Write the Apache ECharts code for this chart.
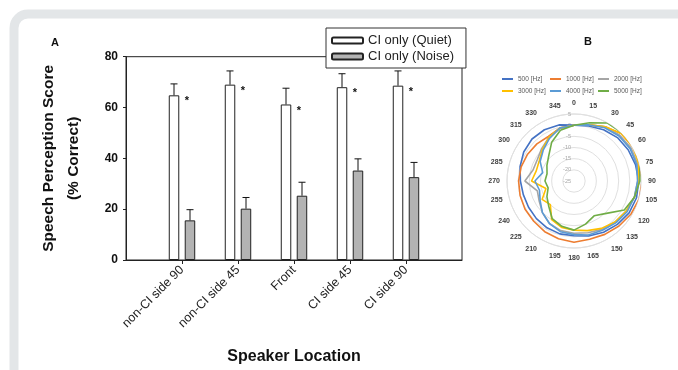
<!DOCTYPE html>
<html>
<head>
<meta charset="utf-8">
<script src="https://cdn.jsdelivr.net/npm/echarts@6/dist/echarts.min.js"></script>
<style>
  html, body { margin: 0; padding: 0; background: #fff; }
  #chart { width: 678px; height: 370px; }
</style>
</head>
<body>
<div id="chart"></div>
<script>
// panel A - speech perception per speaker location
const locations = ['non-CI side 90', 'non-CI side 45', 'Front', 'CI side 45', 'CI side 90'];
const quietMean = [64.8, 69.0, 61.2, 68.0, 68.6];
const quietErr = [4.5, 5.4, 6.4, 5.3, 5.8];
const noiseMean = [15.6, 20.2, 25.3, 35.2, 32.6];
const noiseErr = [4.2, 4.4, 5.3, 4.6, 5.8];
const sigMarks = ['*', '*', '*', '*', '*'];
const yTicks = [0, 20, 40, 60, 80];

// panel B - directivity (dB) per angle
const angles = [0, 15, 30, 45, 60, 75, 90, 105, 120, 135, 150, 165, 180, 195, 210, 225, 240, 255, 270, 285, 300, 315, 330, 345];
const hz500  = [0, 0.5, 1.5, 2.5, 3, 3.5, 4, 4, 3.5, 2.5, 1.5, 0.5, -0.5, -0.5, -0.8, -1.2, -1.5, -1.5, -1, 0, 1, 1.6, 1.5, 1];
const hz1000 = [0, 1, 3, 5, 5.5, 5.5, 5.5, 5.3, 4.5, 3.5, 2.6, 2, 2.4, 1.8, 1.2, 0.5, 0.3, 0, -0.2, -0.5, -1, -1.5, -2, -0.5];
const hz2000 = [0, 1, 3, 4, 4.5, 4.5, 3.5, 3, 2, 1, 0, -1, -1.6, -2, -3, -5, -7, -8, -3, -6, -6, -4.5, -2.5, -0.5];
const hz3000 = [0, 1, 3, 5, 5.5, 5, 4, 3, 2, 1, -0.5, -2, -3, -3.5, -5, -10, -8.5, -12, -6, -7.5, -7, -5, -2.5, -0.5];
const hz4000 = [0, 1, 2.5, 3.5, 4, 4, 3.5, 3, 2.5, 1.5, 0.5, 0, -1, -1.5, -3, -5, -7.5, -9, -7.5, -10.5, -7.5, -5.5, -3, -0.5];
const hz5000 = [0, 2, 5, 5.5, 6, 5.5, 4.5, 3, 1, -4.5, -7, -5, -3, -4, -5.5, -9, -11, -13, -12, -12.5, -11, -9, -5, -1.5];
const rTicks = [-25, -20, -15, -10, -5, 0, 5];

const freqSeries = [
  { name: '500 [Hz]', values: hz500, color: '#4472C4' },
  { name: '1000 [Hz]', values: hz1000, color: '#ED7D31' },
  { name: '2000 [Hz]', values: hz2000, color: '#A5A5A5' },
  { name: '3000 [Hz]', values: hz3000, color: '#FFC000' },
  { name: '4000 [Hz]', values: hz4000, color: '#5B9BD5' },
  { name: '5000 [Hz]', values: hz5000, color: '#70AD47' }
];

const FONT = 'Liberation Sans, Arial, sans-serif';
const xCats = [''].concat(locations, ['']);
const pad = (arr) => ['-'].concat(arr, ['-']);

const errData = [];
locations.forEach((c, i) => {
  errData.push([i + 1, quietMean[i], quietErr[i], -1]);
  errData.push([i + 1, noiseMean[i], noiseErr[i], 1]);
});
const starData = locations.map((c, i) => [i + 1, quietMean[i], sigMarks[i]]);

const myChart = echarts.init(document.getElementById('chart'));

const option = {
  backgroundColor: '#fff',
  animation: false,
  graphic: [{
    type: 'rect',
    silent: true,
    z: -1,
    shape: { x: 14, y: 14, width: 720, height: 420, r: 14 },
    style: { fill: 'none', stroke: '#e3e6e8', lineWidth: 9 }
  }],
  title: [
    { text: 'A', left: 46, top: 32, textStyle: { fontFamily: FONT, fontSize: 11, fontWeight: 'bold', color: '#111' } },
    { text: 'B', left: 579, top: 31, textStyle: { fontFamily: FONT, fontSize: 11, fontWeight: 'bold', color: '#111' } }
  ],
  legend: [
    {
      data: ['CI only (Quiet)', 'CI only (Noise)'],
      orient: 'vertical',
      left: 326,
      top: 28,
      itemWidth: 31,
      itemHeight: 6,
      itemGap: 1,
      padding: [5, 12, 4, 5],
      backgroundColor: '#fff',
      borderColor: '#333',
      borderWidth: 1,
      z: 10,
      textStyle: { fontFamily: FONT, fontSize: 13, color: '#222', lineHeight: 15 }
    },
    {
      data: freqSeries.map(s => s.name),
      left: 502,
      top: 74,
      width: 150,
      icon: 'rect',
      itemWidth: 11,
      itemHeight: 2,
      itemGap: 2,
      padding: 0,
      textStyle: { fontFamily: FONT, fontSize: 6.5, color: '#595959', width: 30, lineHeight: 10 }
    }
  ],
  grid: {
    left: 126,
    top: 56.7,
    right: 216,
    bottom: 103.3,
    show: true,
    borderColor: '#222',
    borderWidth: 1
  },
  xAxis: {
    type: 'category',
    data: xCats,
    boundaryGap: false,
    name: 'Speaker Location',
    nameLocation: 'middle',
    nameGap: 89,
    nameTextStyle: { fontFamily: FONT, fontSize: 16, fontWeight: 'bold', color: '#111' },
    axisLine: { lineStyle: { color: '#222', width: 1 } },
    axisTick: { length: 4, lineStyle: { color: '#222' }, interval: (i, v) => v !== '' },
    axisLabel: { rotate: 45, interval: 0, margin: 8, fontFamily: FONT, fontSize: 12.5, color: '#222' },
    splitLine: { show: false }
  },
  yAxis: {
    type: 'value',
    min: yTicks[0],
    max: yTicks[yTicks.length - 1],
    interval: 20,
    name: 'Speech Perception Score\n(% Correct)',
    nameLocation: 'middle',
    nameGap: 40,
    nameTextStyle: { fontFamily: FONT, fontSize: 15.5, fontWeight: 'bold', color: '#111', lineHeight: 25 },
    axisLine: { show: true, lineStyle: { color: '#222', width: 1 } },
    axisTick: { show: true, length: 3, lineStyle: { color: '#222' } },
    axisLabel: { margin: 8, fontFamily: FONT, fontSize: 12, fontWeight: 'bold', color: '#111' },
    splitLine: { show: false }
  },
  polar: { center: [574, 181], radius: 67 },
  angleAxis: {
    type: 'value',
    min: 0,
    max: 360,
    interval: 15,
    startAngle: 90,
    clockwise: true,
    axisLine: { show: true, lineStyle: { color: '#e0e0e0', width: 1 } },
    axisTick: { show: false },
    splitLine: { show: false },
    axisLabel: {
      margin: 7,
      fontFamily: FONT,
      fontSize: 7,
      fontWeight: 'bold',
      color: '#404040',
      formatter: v => (v === 360 ? '' : String(v))
    }
  },
  radiusAxis: {
    type: 'value',
    min: rTicks[0],
    max: rTicks[rTicks.length - 1],
    interval: 5,
    axisLine: { show: false },
    axisTick: { show: false },
    splitLine: { show: true, lineStyle: { color: '#e0e0e0', width: 1 } },
    axisLabel: { fontFamily: FONT, fontSize: 5.5, color: '#a6a6a6', margin: 3 }
  },
  series: [
    {
      name: 'CI only (Quiet)',
      type: 'bar',
      data: pad(quietMean),
      barWidth: 10.5,
      barGap: '52%',
      itemStyle: { color: '#fff', borderColor: '#222', borderWidth: 1 }
    },
    {
      name: 'CI only (Noise)',
      type: 'bar',
      data: pad(noiseMean),
      barWidth: 10.5,
      itemStyle: { color: '#b3b3b3', borderColor: '#222', borderWidth: 1 }
    },
    {
      // error bars, upper half only
      type: 'custom',
      z: 3,
      silent: true,
      data: errData,
      encode: { x: 0, y: 1 },
      renderItem: (params, api) => {
        const x = api.value(0);
        const m = api.value(1);
        const e = api.value(2);
        const side = api.value(3);
        const base = api.coord([x, m]);
        const top = api.coord([x, m + e]);
        const cx = base[0] + side * 8;
        const st = { stroke: '#111', lineWidth: 1 };
        return {
          type: 'group',
          children: [
            { type: 'line', shape: { x1: cx, y1: base[1], x2: cx, y2: top[1] }, style: st },
            { type: 'line', shape: { x1: cx - 3.5, y1: top[1], x2: cx + 3.5, y2: top[1] }, style: st }
          ]
        };
      }
    },
    {
      // significance marks
      type: 'custom',
      z: 3,
      silent: true,
      data: starData,
      encode: { x: 0, y: 1 },
      renderItem: (params, api) => {
        const p = api.coord([api.value(0), api.value(1)]);
        return {
          type: 'text',
          x: p[0] + 5,
          y: p[1] + 6,
          style: {
            text: starData[params.dataIndex][2],
            fontFamily: FONT,
            fontSize: 11,
            fontWeight: 'bold',
            fill: '#111',
            align: 'center',
            verticalAlign: 'middle'
          }
        };
      }
    }
  ].concat(freqSeries.map(s => ({
    name: s.name,
    type: 'line',
    coordinateSystem: 'polar',
    symbol: 'none',
    clip: false,
    lineStyle: { color: s.color, width: 1.6 },
    itemStyle: { color: s.color },
    data: s.values.map((v, i) => [v, angles[i]]).concat([[s.values[0], 360]])
  })))
};

myChart.setOption(option);
</script>
</body>
</html>
